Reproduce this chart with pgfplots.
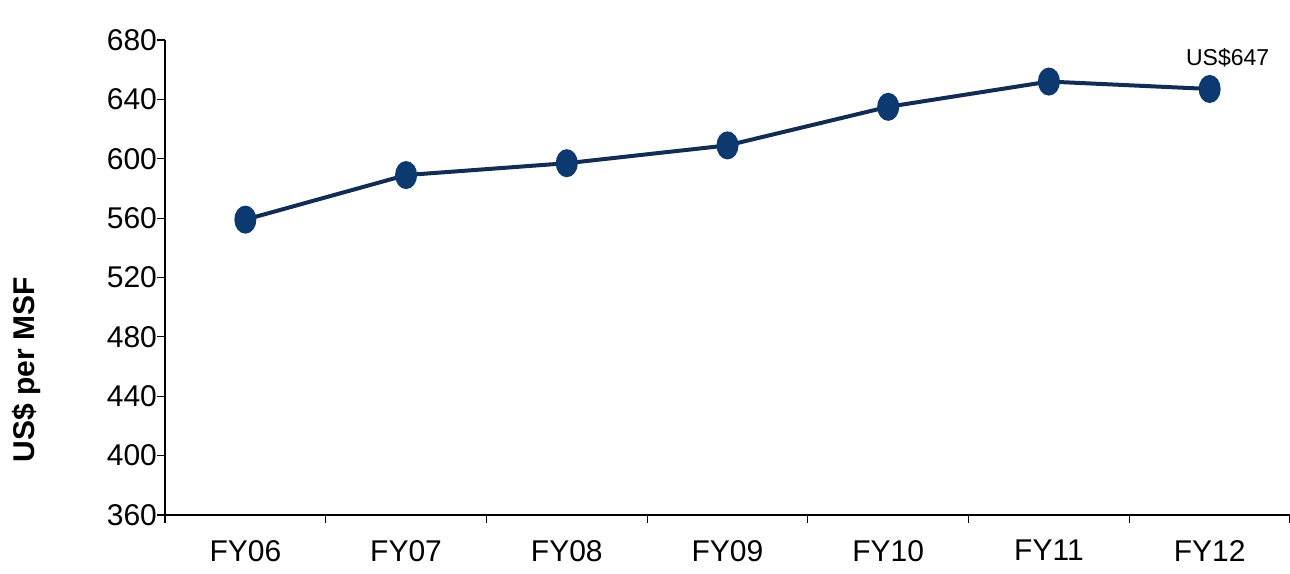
\documentclass[border=0pt]{standalone}
\usepackage{pgfplots}
\pgfplotsset{compat=1.18}
\usepackage{fontspec}
\setmainfont{Liberation Sans}
\definecolor{navy}{RGB}{12,58,112}
\definecolor{navyline}{RGB}{18,44,84}
\begin{document}
\begin{tikzpicture}
\begin{axis}[
  scale only axis, width=562.5pt, height=237.5pt,
  xmin=-0.5, xmax=6.5, ymin=360, ymax=680,
  axis x line*=bottom, axis y line*=left,
  axis line style={black, line width=1.2pt, -},
  xtick={0,...,6},
  xticklabels={FY06,FY07,FY08,FY09,FY10,FY11,FY12},
  major x tick style={draw=none},
  minor xtick={-0.5,0.5,...,6.5},
  ytick={360,400,...,680},
  tick align=outside,
  major tick length=4pt, minor tick length=4pt,
  tick style={black, line width=0.6pt},
  /pgf/number format/assume math mode=true,
  ticklabel style={font=\fontsize{15}{18}\selectfont},
  yticklabel style={/pgf/number format/1000 sep={}, xshift=3.5pt},
  xticklabel style={yshift=-5pt},
  ylabel={US\$ per MSF},
  ylabel style={at={(axis description cs:-0.1227,0.305)}, anchor=center, font=\fontsize{15}{18}\selectfont\bfseries},
  clip=false,
]
\addplot[navyline, line width=2pt, mark=*, mark size=6pt,
  mark options={fill=navy, draw=navy, xscale=0.75}]
  coordinates {(0,559) (1,589) (2,597) (3,609) (4,635) (5,652) (6,647)};
\node[font=\fontsize{11.5}{13}\selectfont] at (axis cs:6,647) [xshift=9pt, yshift=15.5pt] {US\$647};
\coordinate (O) at (rel axis cs:0,0);
\coordinate (T) at (rel axis cs:1,1);
\end{axis}
\pgfresetboundingbox
\path ([shift={(-82.5pt,-29pt)}]O) rectangle ([shift={(0pt,20pt)}]T);
\end{tikzpicture}
\end{document}
